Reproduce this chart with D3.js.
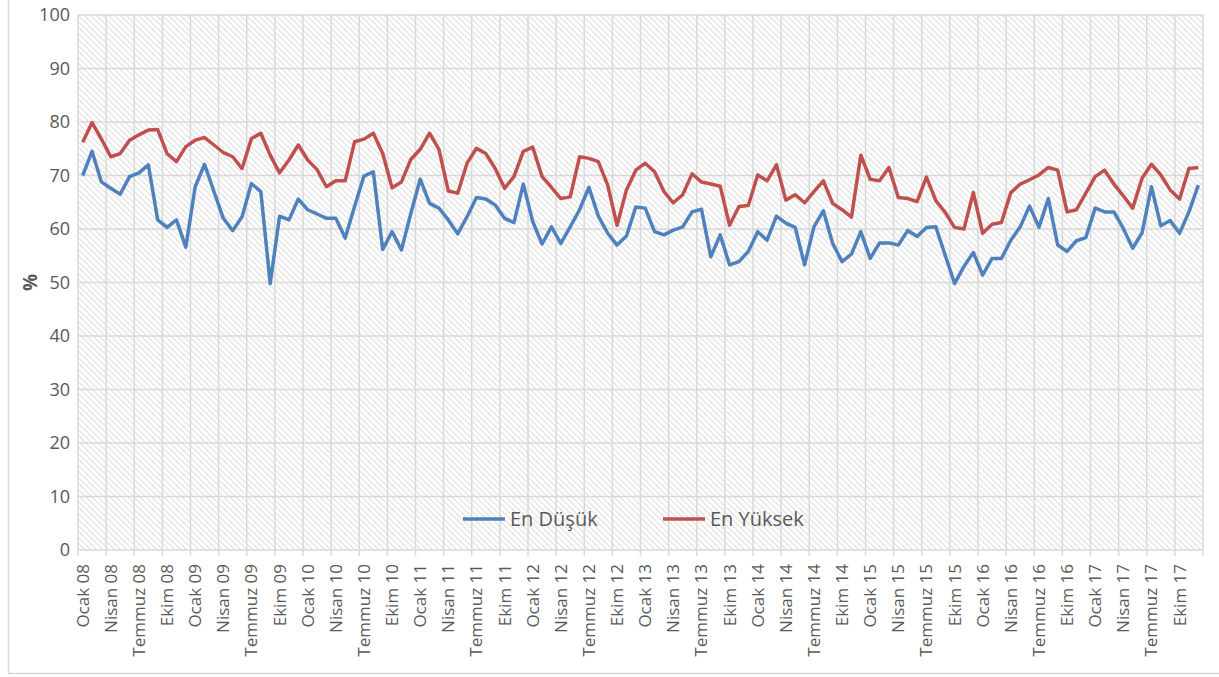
<!DOCTYPE html>
<html>
<head>
<meta charset="utf-8">
<script src="https://cdnjs.cloudflare.com/ajax/libs/d3/7.8.5/d3.min.js"></script>
<style>
  body { margin: 0; background: #fff; }
  text { font-family: "Open Sans", sans-serif; fill: #595959; }
</style>
</head>
<body>
<svg id="Chart"></svg>
<script>
// months Ocak 08 .. Aralik 17 (120 points)
const monthNames = ['Ocak', 'Şubat', 'Mart', 'Nisan', 'Mayıs', 'Haziran',
  'Temmuz', 'Ağustos', 'Eylül', 'Ekim', 'Kasım', 'Aralık'];
const years = ['08', '09', '10', '11', '12', '13', '14', '15', '16', '17'];
const categories = [];
years.forEach(y => monthNames.forEach(m => categories.push(m + ' ' + y)));

const enDusuk = [
  70.0, 74.5, 68.8, 67.6, 66.5, 69.8, 70.5, 72.0, 61.7, 60.3, 61.7, 56.6,
  67.9, 72.1, 67.0, 62.0, 59.7, 62.3, 68.5, 67.0, 49.8, 62.4, 61.7, 65.6,
  63.6, 62.8, 62.0, 62.0, 58.3, 64.2, 69.9, 70.7, 56.2, 59.5, 56.1, 62.9,
  69.3, 64.8, 63.9, 61.7, 59.1, 62.3, 65.9, 65.6, 64.5, 62.0, 61.2, 68.4,
  61.4, 57.2, 60.4, 57.3, 60.4, 63.6, 67.8, 62.4, 59.2, 57.0, 58.7, 64.1,
  63.9, 59.5, 58.9, 59.8, 60.4, 63.2, 63.7, 54.8, 58.9, 53.3, 53.9, 55.8,
  59.5, 57.9, 62.4, 61.1, 60.3, 53.3, 60.4, 63.4, 57.3, 53.9, 55.3, 59.5,
  54.5, 57.4, 57.4, 57.0, 59.7, 58.6, 60.3, 60.4, 55.1, 49.8, 53.0, 55.6,
  51.4, 54.5, 54.5, 57.9, 60.4, 64.3, 60.3, 65.7, 57.0, 55.8, 57.8, 58.4,
  63.9, 63.2, 63.2, 60.1, 56.4, 59.3, 67.9, 60.6, 61.6, 59.2, 63.2, 68.2
];

const enYuksek = [
  76.2, 79.9, 76.8, 73.5, 74.1, 76.6, 77.6, 78.5, 78.6, 74.1, 72.6, 75.4,
  76.6, 77.1, 75.7, 74.3, 73.5, 71.3, 76.9, 77.9, 73.8, 70.5, 72.9, 75.7,
  72.9, 71.1, 67.9, 69.0, 69.0, 76.3, 76.8, 77.9, 74.1, 67.7, 68.8, 73.0,
  74.9, 77.9, 74.9, 67.1, 66.7, 72.3, 75.1, 74.1, 71.3, 67.6, 69.8, 74.5,
  75.3, 69.8, 67.8, 65.7, 66.0, 73.5, 73.2, 72.6, 68.2, 60.7, 67.3, 71.0,
  72.3, 70.7, 67.0, 64.9, 66.4, 70.3, 68.8, 68.4, 68.0, 60.7, 64.2, 64.4,
  70.1, 69.0, 72.0, 65.4, 66.4, 64.9, 67.0, 69.0, 64.8, 63.6, 62.2, 73.8,
  69.3, 69.0, 71.5, 65.9, 65.7, 65.1, 69.7, 65.3, 63.1, 60.3, 60.0, 66.8,
  59.2, 60.9, 61.2, 66.8, 68.4, 69.2, 70.1, 71.5, 71.0, 63.2, 63.6, 66.7,
  69.8, 71.0, 68.4, 66.2, 63.9, 69.5, 72.1, 70.1, 67.3, 65.6, 71.3, 71.5
];

const yTicks = [0, 10, 20, 30, 40, 50, 60, 70, 80, 90, 100];

const series = [
  { name: 'En Düşük', values: enDusuk, color: '#4f81bd' },
  { name: 'En Yüksek', values: enYuksek, color: '#c0504d' }
];

const W = 1219, H = 677;
const margin = { top: 15, right: 16, bottom: 127, left: 78 };
const width = W - margin.left - margin.right;
const height = H - margin.top - margin.bottom;

const root = d3.select('#Chart')
  .attr('width', W)
  .attr('height', H);

// outer chart border
root.append('rect')
  .attr('x', 8.5).attr('y', -5)
  .attr('width', W + 10).attr('height', 678.5)
  .attr('fill', 'none')
  .attr('stroke', '#d9d9d9')
  .attr('stroke-width', 1.5);

// hatch pattern for the plot area
const pat = root.append('defs').append('pattern')
  .attr('id', 'hatch')
  .attr('patternUnits', 'userSpaceOnUse')
  .attr('width', 6).attr('height', 6);
pat.append('rect').attr('width', 6).attr('height', 6).attr('fill', '#fff');
pat.append('path')
  .attr('d', 'M-1,-1 L7,7 M-1,5 L1,7 M5,-1 L7,1')
  .attr('stroke', '#e0e0e0')
  .attr('stroke-width', 1.2);

const svg = root.append('g')
  .attr('transform', 'translate(' + margin.left + ',' + margin.top + ')');

const x = d3.scaleBand().domain(categories).range([0, width]);
const y = d3.scaleLinear().domain([0, 100]).range([height, 0]);

svg.append('rect')
  .attr('width', width).attr('height', height)
  .attr('fill', 'url(#hatch)');

// horizontal gridlines
svg.selectAll('.hgrid')
  .data(yTicks)
  .enter().append('line')
  .attr('x1', 0).attr('x2', width)
  .attr('y1', d => y(d)).attr('y2', d => y(d))
  .attr('stroke', '#d9d9d9')
  .attr('stroke-width', 1.5);

// vertical gridlines every 3 months, on category boundaries
const boundaries = categories.filter((c, i) => i % 3 === 0).map(c => x(c)).concat([width]);
svg.selectAll('.vgrid')
  .data(boundaries)
  .enter().append('line')
  .attr('x1', d => d).attr('x2', d => d)
  .attr('y1', 0).attr('y2', height + 6)
  .attr('stroke', '#d9d9d9')
  .attr('stroke-width', 1.5);

// y labels
svg.selectAll('.ylab')
  .data(yTicks)
  .enter().append('text')
  .attr('x', -8)
  .attr('y', d => y(d))
  .attr('dy', '0.35em')
  .style('text-anchor', 'end')
  .style('font-size', '18px')
  .text(d => d);

// x labels, rotated
svg.selectAll('.xlab')
  .data(categories.filter((c, i) => i % 3 === 0))
  .enter().append('text')
  .attr('transform', d => 'translate(' + (x(d) + x.bandwidth() / 2) + ',' + (height + 14) + ') rotate(-90)')
  .attr('dy', '0.35em')
  .style('text-anchor', 'end')
  .style('font-size', '17px')
  .text(d => d);

// y axis title
root.append('text')
  .attr('transform', 'translate(30,' + (margin.top + height / 2) + ') rotate(-90)')
  .attr('dy', '0.35em')
  .style('text-anchor', 'middle')
  .style('font-size', '19px')
  .style('font-weight', 'bold')
  .text('%');

const line = d3.line()
  .x((d, i) => x(categories[i]) + x.bandwidth() / 2)
  .y(d => y(d));

series.forEach(s => {
  svg.append('path')
    .datum(s.values)
    .attr('d', line)
    .attr('fill', 'none')
    .attr('stroke', s.color)
    .attr('stroke-width', 3.5)
    .attr('stroke-linejoin', 'round');
});

// legend inside plot
const legendX = [385, 585];
const legend = svg.selectAll('.legend')
  .data(series)
  .enter().append('g')
  .attr('transform', (d, i) => 'translate(' + legendX[i] + ',' + y(5.8) + ')');

legend.append('line')
  .attr('x1', 0).attr('x2', 42)
  .attr('stroke', d => d.color)
  .attr('stroke-width', 3.5);

legend.append('text')
  .attr('x', 47)
  .attr('dy', '0.35em')
  .style('font-size', '20px')
  .text(d => d.name);
</script>
</body>
</html>
